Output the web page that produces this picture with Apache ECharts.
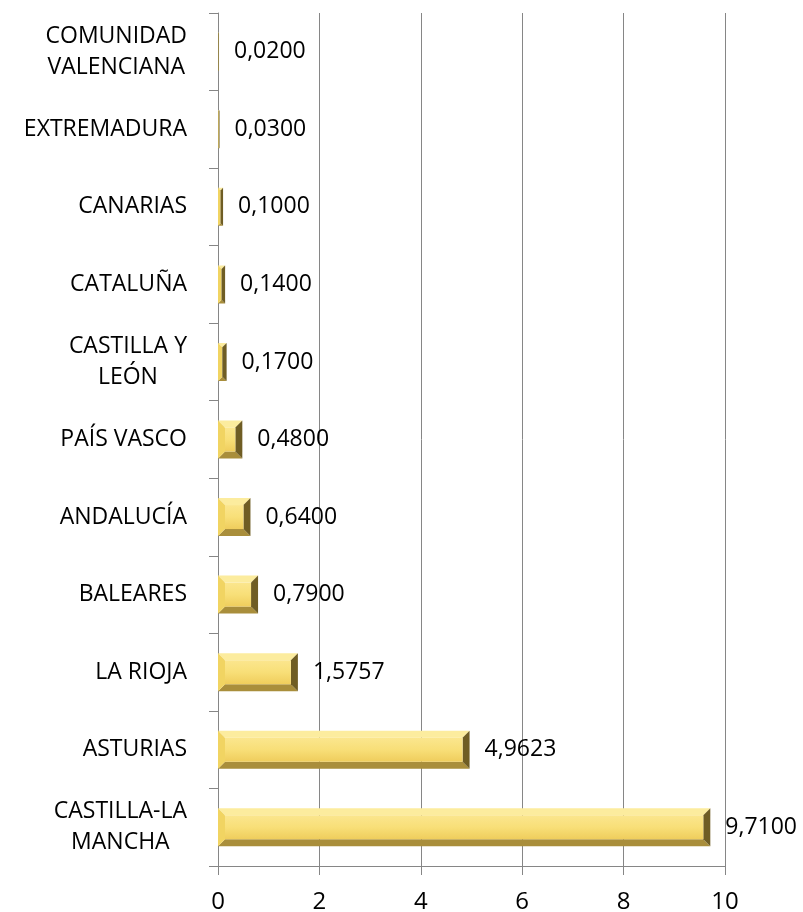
<!DOCTYPE html>
<html>
<head>
<meta charset="utf-8">
<script src="https://cdn.jsdelivr.net/npm/echarts@6/dist/echarts.min.js"></script>
<style>
  body { margin: 0; background: #fff; }
  #main { width: 803px; height: 912px; }
  #frame { position: absolute; left: 2px; top: 0; width: 1px; height: 912px; background: #8c8c8c; }
</style>
</head>
<body>
<div id="frame"></div>
<div id="main"></div>
<script>
// categories from bottom to top
var regiones = ['CASTILLA-LA\nMANCHA', 'ASTURIAS', 'LA RIOJA', 'BALEARES', 'ANDALUCÍA', 'PAÍS VASCO',
    'CASTILLA Y\nLEÓN', 'CATALUÑA', 'CANARIAS', 'EXTREMADURA', 'COMUNIDAD\nVALENCIANA'];
var valores = [9.71, 4.9623, 1.5757, 0.79, 0.64, 0.48, 0.17, 0.14, 0.10, 0.03, 0.02];
var xTicks = [0, 2, 4, 6, 8, 10];

var fuente = '"Open Sans", sans-serif';
var gris = '#868686';

var datos = valores.map(function (v, i) { return [v, i]; });

function fmt(v) {
    return v.toFixed(4).replace('.', ',');
}

function renderBar(params, api) {
    var v = api.value(0);
    var c = api.value(1);
    var p0 = api.coord([0, c]);
    var p1 = api.coord([v, c]);
    var h = api.size([0, 1])[1] * 0.49;
    var x0 = p0[0], x1 = p1[0];
    var y0 = p0[1] - h / 2, y1 = p0[1] + h / 2;
    var w = x1 - x0;
    var b = Math.max(0, Math.min(7, w / 2, h / 2));
    function poly(pts, color) {
        return { type: 'polygon', shape: { points: pts }, style: { fill: color } };
    }
    return {
        type: 'group',
        children: [
            poly([[x0, y0], [x1, y0], [x1 - b, y0 + b], [x0 + b, y0 + b]], '#fcec9e'),
            poly([[x0, y1], [x1, y1], [x1 - b, y1 - b], [x0 + b, y1 - b]], '#a98e3b'),
            poly([[x0, y0], [x0 + b, y0 + b], [x0 + b, y1 - b], [x0, y1]], '#f1d462'),
            poly([[x1, y0], [x1 - b, y0 + b], [x1 - b, y1 - b], [x1, y1]], '#6f5d24'),
            {
                type: 'rect',
                shape: { x: x0 + b, y: y0 + b, width: Math.max(0, w - 2 * b), height: h - 2 * b },
                style: {
                    fill: new echarts.graphic.LinearGradient(0, 0, 0, 1, [
                        { offset: 0, color: '#fbe68e' },
                        { offset: 0.5, color: '#f8df78' },
                        { offset: 1, color: '#efcd5c' }
                    ])
                }
            },
            {
                type: 'text',
                x: x1 + 15,
                y: p0[1],
                style: {
                    text: fmt(v),
                    fill: '#000',
                    font: '23px ' + fuente,
                    verticalAlign: 'middle',
                    align: 'left'
                }
            }
        ]
    };
}

var myChart = echarts.init(document.getElementById('main'), null, { renderer: 'canvas' });
var option = {
    animation: false,
    backgroundColor: '#fff',
    grid: { left: 218, right: 78, top: 13, bottom: 46, containLabel: false, outerBoundsMode: 'none' },
    xAxis: {
        type: 'value',
        min: xTicks[0],
        max: xTicks[xTicks.length - 1],
        interval: 2,
        axisLine: { show: true, lineStyle: { color: gris, width: 1 } },
        axisTick: { show: true, length: 9, lineStyle: { color: gris } },
        splitLine: { show: true, lineStyle: { color: gris, width: 1 } },
        axisLabel: { color: '#000', fontSize: 24, fontFamily: fuente, margin: 24 }
    },
    yAxis: {
        type: 'category',
        data: regiones,
        axisLine: { show: true, lineStyle: { color: gris, width: 1 } },
        axisTick: { show: true, length: 9, lineStyle: { color: gris } },
        axisLabel: {
            color: '#000',
            margin: 31,
            formatter: function (val) {
                return val.split('\n').map(function (l) { return '{c|' + l + '}'; }).join('\n');
            },
            rich: {
                c: { align: 'center', fontSize: 23, lineHeight: 31, fontFamily: fuente, color: '#000' }
            }
        }
    },
    series: [{
        type: 'custom',
        renderItem: renderBar,
        encode: { x: 0, y: 1 },
        data: datos,
        z: 3
    }]
};
option && myChart.setOption(option);
</script>
</body>
</html>
